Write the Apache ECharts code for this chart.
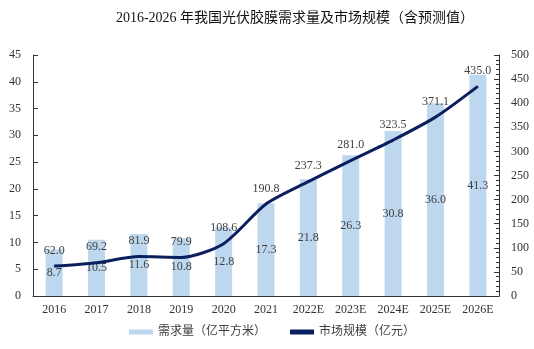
<!DOCTYPE html>
<html><head><meta charset="utf-8">
<script src="https://cdn.jsdelivr.net/npm/echarts@6/dist/echarts.min.js"></script>
<style>html,body{margin:0;padding:0;background:#fff}#c{width:534px;height:349px}</style>
</head><body><div id="c"></div>
<script>
const categories = ['2016','2017','2018','2019','2020','2021','2022E','2023E','2024E','2025E','2026E'];
const demand = [8.7,10.5,11.6,10.8,12.8,17.3,21.8,26.3,30.8,36.0,41.3];
const market = [62.0,69.2,81.9,79.9,108.6,190.8,237.3,281.0,323.5,371.1,435.0];
const seriesNames = ['需求量（亿平方米）','市场规模（亿元）'];
const titleText = '2016-2026 年我国光伏胶膜需求量及市场规模（含预测值）';
const FONT = '"Liberation Serif", "Noto Sans CJK SC", serif';
const chart = echarts.init(document.getElementById('c'));
chart.setOption({
  animation:false,
  title:{text:titleText,left:290,textAlign:'center',top:6,textStyle:{fontFamily:FONT,fontSize:14,fontWeight:'normal',color:'#111'}},
  grid:{left:33,right:35,top:55,bottom:53},
  legend:{bottom:6,left:124,itemGap:24,itemWidth:24,itemHeight:5,textStyle:{fontFamily:FONT,fontSize:12,color:'#404040'},
    data:[{name:seriesNames[0],icon:'rect'},{name:seriesNames[1],icon:'path://M0,0H24V5H0Z'}]},
  xAxis:{type:'category',data:categories,axisLine:{lineStyle:{color:'#333',width:1}},
    axisTick:{inside:true,length:5,lineStyle:{color:'#333'}},
    axisLabel:{fontFamily:FONT,fontSize:12,color:'#333',margin:8}},
  yAxis:[
    {type:'value',min:0,max:45,interval:5,axisLine:{show:true,lineStyle:{color:'#333'}},
     axisTick:{show:true,inside:true,length:5,lineStyle:{color:'#333'}},splitLine:{show:false},
     axisLabel:{fontFamily:FONT,fontSize:12,color:'#333',margin:12}},
    {type:'value',min:0,max:500,interval:50,axisLine:{show:true,lineStyle:{color:'#333'}},
     axisTick:{show:true,inside:true,length:5,lineStyle:{color:'#333'}},
     minorTick:{show:true,splitNumber:5,length:3,lineStyle:{color:'#333'}},splitLine:{show:false},
     axisLabel:{fontFamily:FONT,fontSize:12,color:'#333',margin:12}}
  ],
  series:[
    {name:seriesNames[0],type:'bar',data:demand,barWidth:'40%',itemStyle:{color:'#bdd7ee'},
     label:{show:true,position:'inside',formatter:p=>p.value.toFixed(1),fontFamily:FONT,fontSize:12,color:'#404040'}},
    {name:seriesNames[1],type:'line',yAxisIndex:1,data:market,smooth:0.25,symbol:'circle',symbolSize:1,showSymbol:true,
     lineStyle:{color:'#0b1f5e',width:3},itemStyle:{color:'#0b1f5e'},
     label:{show:true,position:'top',distance:9,formatter:p=>p.value.toFixed(1),fontFamily:FONT,fontSize:12,color:'#404040'}}
  ]
});
</script></body></html>
